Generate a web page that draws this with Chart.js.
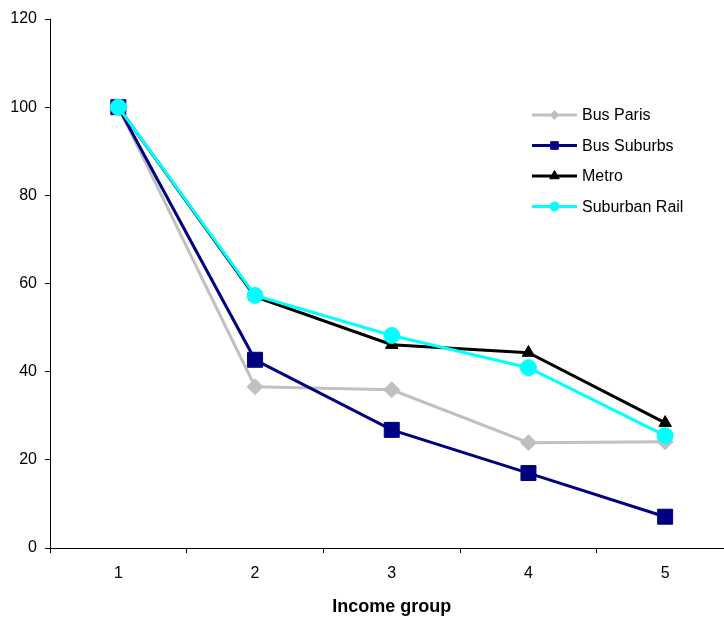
<!DOCTYPE html>
<html>
<head>
<meta charset="utf-8">
<script src="https://cdn.jsdelivr.net/npm/chart.js@4/dist/chart.umd.min.js"></script>
<style>
  html, body { margin: 0; padding: 0; background: #fff; overflow: hidden; }
  #wrap { width: 736px; height: 621px; }
</style>
</head>
<body>
<div id="wrap"><canvas id="c" width="736" height="621"></canvas></div>
<script>
const categories = ['1', '2', '3', '4', '5'];
const busParis = [100, 36.6, 35.9, 23.9, 24.1];
const busSuburbs = [100, 42.7, 26.8, 17.0, 7.1];
const metro = [100, 57.0, 46.1, 44.3, 28.4];
const suburbanRail = [100, 57.3, 48.2, 40.9, 25.5];
const yTicks = [0, 20, 40, 60, 80, 100, 120];
const xTitle = 'Income group';

const FONT = "'Liberation Sans', Arial, sans-serif";

function ds(label, data, color, style, radius, order) {
  return {
    label, data,
    borderColor: color, backgroundColor: color,
    pointBackgroundColor: color, pointBorderColor: color,
    borderWidth: 3, pointStyle: style, pointRadius: radius,
    pointBorderWidth: 1, tension: 0, order, clip: false
  };
}

const datasets = [
  ds('Bus Paris', busParis, '#C0C0C0', 'rectRot', 8, 4),
  ds('Bus Suburbs', busSuburbs, '#000080', 'rect', 10.6, 3),
  ds('Metro', metro, '#000000', 'triangle', 7.2, 2),
  ds('Suburban Rail', suburbanRail, '#00FFFF', 'circle', 8, 1)
];
const legendRadii = [4.5, 5.4, 5.5, 4.5];

const legendPlugin = {
  id: 'customLegend',
  afterDraw(chart) {
    const ctx = chart.ctx;
    const x0 = 532, x1 = 577, tx = 582;
    const y0 = 115, dy = 30.5;
    chart.data.datasets.forEach((d, i) => {
      const y = y0 + i * dy;
      ctx.save();
      ctx.strokeStyle = d.borderColor;
      ctx.lineWidth = 3;
      ctx.beginPath();
      ctx.moveTo(x0, y); ctx.lineTo(x1, y);
      ctx.stroke();
      ctx.fillStyle = d.borderColor;
      ctx.strokeStyle = d.borderColor;
      ctx.lineWidth = 1;
      Chart.helpers.drawPoint(ctx, {pointStyle: d.pointStyle, radius: legendRadii[i], rotation: 0, borderWidth: 1}, (x0 + x1) / 2, y);
      ctx.fillStyle = '#000';
      ctx.font = '16px ' + FONT;
      ctx.textBaseline = 'middle';
      ctx.textAlign = 'left';
      ctx.fillText(d.label, tx, y + 1);
      ctx.restore();
    });
  }
};

new Chart(document.getElementById('c'), {
  type: 'line',
  data: { labels: categories, datasets },
  options: {
    responsive: false,
    animation: false,
    layout: { autoPadding: false, padding: { top: 19, right: 2.5, left: 0, bottom: 0 } },
    plugins: { legend: { display: false }, tooltip: { enabled: false } },
    scales: {
      x: {
        offset: true,
        grid: { offset: true, drawOnChartArea: false, drawTicks: true, tickLength: 5, color: '#000' },
        border: { color: '#000', width: 1 },
        ticks: { color: '#000', font: { family: FONT, size: 16 }, padding: 11, maxRotation: 0 },
        title: { display: true, text: xTitle, color: '#000', font: { family: FONT, size: 18, weight: 'bold' }, padding: { top: 0, bottom: 3.5 } },
        afterFit(s) { s.height = 73; }
      },
      y: {
        min: 0, max: 120,
        afterBuildTicks(s) { s.ticks = yTicks.map(v => ({ value: v })); },
        grid: { drawOnChartArea: false, drawTicks: true, tickLength: 5, color: '#000' },
        border: { color: '#000', width: 1 },
        ticks: { color: '#000', font: { family: FONT, size: 16 }, padding: 8 },
        afterFit(s) { s.width = 50; }
      }
    }
  },
  plugins: [legendPlugin]
});
</script>
</body>
</html>
